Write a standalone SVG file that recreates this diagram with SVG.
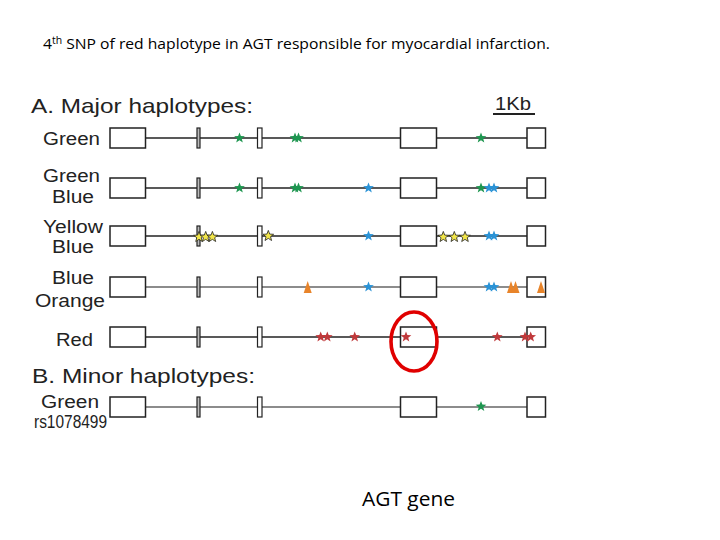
<svg xmlns="http://www.w3.org/2000/svg" xmlns:xlink="http://www.w3.org/1999/xlink" width="720" height="540" viewBox="0 0 720 540">
<defs>
<style>
.lbl{font-family:"Liberation Sans",Arial,sans-serif;font-size:17.5px;fill:#222}
.hdr{font-family:"Liberation Sans",Arial,sans-serif;font-size:21px;fill:#222}
.cal{font-family:"Open Sans","Liberation Sans",sans-serif;fill:#000}
.ln{stroke:#222;stroke-width:1.3;fill:none}
.lng{stroke:#666;stroke-width:1.3;fill:none}
.box{fill:#fff;stroke:#222;stroke-width:1.5}
.ex2{fill:#bbb;stroke:#222;stroke-width:1.2}
.ex3{fill:#fff;stroke:#222;stroke-width:1.2}
.g{fill:#1e9650}
.b{fill:#2b93d6}
.r{fill:#c0393b}
.y{fill:#f2e64a;stroke:#222;stroke-width:0.8}
.o{fill:#e8842a}
</style>
<path id="st" d="M0,-5.6 L1.39,-1.91 L5.33,-1.73 L2.25,0.73 L3.29,4.53 L0,2.36 L-3.29,4.53 L-2.25,0.73 L-5.33,-1.73 L-1.39,-1.91 Z"/>
<path id="tri" d="M0,-6 L4,6 L-4,6 Z"/>
<g id="gene">
<rect class="box" x="110" y="-10" width="35.5" height="20"/>
<rect class="ex2" x="197" y="-10" width="3" height="20"/>
<rect class="ex3" x="257.5" y="-10" width="4.5" height="20"/>
<rect class="box" x="400.5" y="-10" width="36" height="20"/>
<rect class="box" x="527" y="-10" width="18.5" height="20"/>
</g>
</defs>
<rect width="720" height="540" fill="#fff"/>

<text class="cal" x="43" y="49" font-size="15" textLength="507" lengthAdjust="spacingAndGlyphs">4<tspan font-size="10" dy="-5">th</tspan><tspan dy="5"> SNP of red haplotype in AGT responsible for myocardial infarction.</tspan></text>

<text class="hdr" x="31" y="113" textLength="222" lengthAdjust="spacingAndGlyphs">A. Major haplotypes:</text>
<g id="scale">
<text class="lbl" x="495" y="110" font-size="18" textLength="36" lengthAdjust="spacingAndGlyphs">1Kb</text>
<line x1="493" y1="114" x2="535" y2="114" stroke="#222" stroke-width="2"/>
</g>

<g id="row-green">
<text class="lbl" x="43" y="145" textLength="57" lengthAdjust="spacingAndGlyphs">Green</text>
<line class="ln" x1="145" y1="138" x2="527" y2="138"/>
<use xlink:href="#gene" y="138"/>
<use xlink:href="#st" class="g" x="239.5" y="138"/>
<use xlink:href="#st" class="g" x="295" y="138"/>
<use xlink:href="#st" class="g" x="298.5" y="138"/>
<use xlink:href="#st" class="g" x="481" y="138"/>
</g>

<g id="row-greenblue">
<text class="lbl" x="43" y="182" textLength="57" lengthAdjust="spacingAndGlyphs">Green</text>
<text class="lbl" x="52" y="203" textLength="42" lengthAdjust="spacingAndGlyphs">Blue</text>
<line class="ln" x1="145" y1="188" x2="527" y2="188"/>
<use xlink:href="#gene" y="188"/>
<use xlink:href="#st" class="g" x="239.5" y="188"/>
<use xlink:href="#st" class="g" x="295" y="188"/>
<use xlink:href="#st" class="g" x="298.5" y="188"/>
<use xlink:href="#st" class="b" x="368.5" y="188"/>
<use xlink:href="#st" class="g" x="481" y="188"/>
<use xlink:href="#st" class="b" x="489" y="188"/>
<use xlink:href="#st" class="b" x="494" y="188"/>
</g>

<g id="row-yellowblue">
<text class="lbl" x="43" y="233" textLength="60" lengthAdjust="spacingAndGlyphs">Yellow</text>
<text class="lbl" x="52" y="253" textLength="42" lengthAdjust="spacingAndGlyphs">Blue</text>
<line class="ln" x1="145" y1="236" x2="527" y2="236"/>
<use xlink:href="#gene" y="236"/>
<use xlink:href="#st" class="y" x="199" y="237"/>
<use xlink:href="#st" class="y" x="205.7" y="237"/>
<use xlink:href="#st" class="y" x="212.4" y="237"/>
<use xlink:href="#st" class="y" x="268.3" y="236"/>
<use xlink:href="#st" class="b" x="368.5" y="236"/>
<use xlink:href="#st" class="y" x="443.3" y="237"/>
<use xlink:href="#st" class="y" x="454.3" y="237"/>
<use xlink:href="#st" class="y" x="465" y="237"/>
<use xlink:href="#st" class="b" x="489" y="236"/>
<use xlink:href="#st" class="b" x="494" y="236"/>
</g>

<g id="row-blueorange">
<text class="lbl" x="52" y="284" textLength="42" lengthAdjust="spacingAndGlyphs">Blue</text>
<text class="lbl" x="35" y="307" textLength="70" lengthAdjust="spacingAndGlyphs">Orange</text>
<line class="lng" x1="145" y1="287" x2="527" y2="287"/>
<use xlink:href="#gene" y="287"/>
<use xlink:href="#tri" class="o" x="307.7" y="287"/>
<use xlink:href="#st" class="b" x="368.5" y="287"/>
<use xlink:href="#st" class="b" x="489" y="287"/>
<use xlink:href="#st" class="b" x="494" y="287"/>
<use xlink:href="#tri" class="o" x="511" y="287"/>
<use xlink:href="#tri" class="o" x="515.5" y="287"/>
<use xlink:href="#tri" class="o" x="541" y="287"/>
</g>

<g id="row-red">
<text class="lbl" x="56" y="346" textLength="37" lengthAdjust="spacingAndGlyphs">Red</text>
<line class="ln" x1="145" y1="337" x2="527" y2="337"/>
<use xlink:href="#gene" y="337"/>
<use xlink:href="#st" class="r" x="320.7" y="337"/>
<use xlink:href="#st" class="r" x="327.3" y="337"/>
<use xlink:href="#st" class="r" x="354.7" y="337"/>
<use xlink:href="#st" class="r" x="406" y="337"/>
<use xlink:href="#st" class="r" x="497.3" y="337"/>
<use xlink:href="#st" class="r" x="525" y="337"/>
<use xlink:href="#st" class="r" x="530.7" y="337"/>
</g>

<g id="highlight">
<ellipse cx="414" cy="341.5" rx="23" ry="29.5" fill="none" stroke="#e00000" stroke-width="3.6"/>
</g>

<text class="hdr" x="32" y="383" textLength="223" lengthAdjust="spacingAndGlyphs">B. Minor haplotypes:</text>

<g id="row-minor-green">
<text class="lbl" x="41" y="408" font-size="17" textLength="58" lengthAdjust="spacingAndGlyphs">Green</text>
<text class="lbl" x="34" y="428" font-size="11" textLength="73" lengthAdjust="spacingAndGlyphs">rs1078499</text>
<line class="lng" x1="145" y1="407" x2="527" y2="407"/>
<use xlink:href="#gene" y="407"/>
<use xlink:href="#st" class="g" x="481" y="406.5"/>
</g>

<text class="cal" x="362" y="506" font-size="20" textLength="93" lengthAdjust="spacingAndGlyphs">AGT gene</text>
</svg>
